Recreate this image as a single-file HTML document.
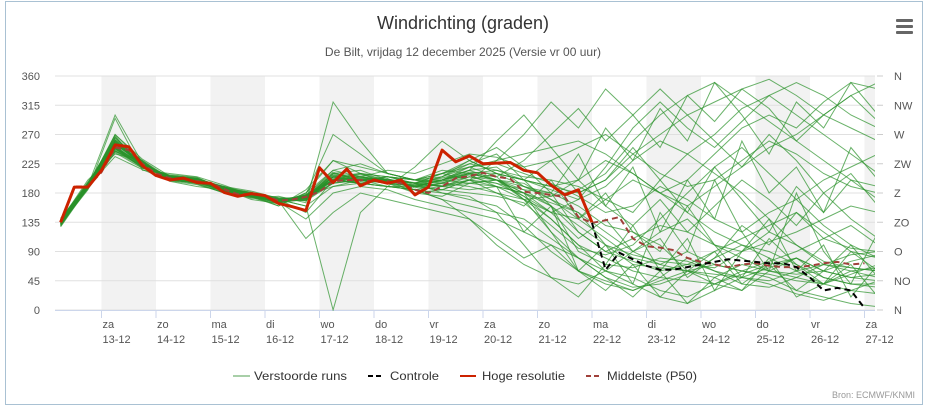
<!DOCTYPE html>
<html><head><meta charset="utf-8">
<style>
html,body{margin:0;padding:0;background:#fff;}
body{width:925px;height:407px;overflow:hidden;font-family:"Liberation Sans",sans-serif;}
svg text{font-family:"Liberation Sans",sans-serif;}
</style></head>
<body>
<svg id="chart" width="925" height="407" xmlns="http://www.w3.org/2000/svg">
<rect x="5.5" y="1.5" width="917" height="403" fill="#fff" stroke="#a9c1d3" stroke-width="1"/>
<text x="463" y="29" text-anchor="middle" font-size="18" fill="#333">Windrichting (graden)</text>
<text x="463" y="56" text-anchor="middle" font-size="12" fill="#555">De Bilt, vrijdag 12 december 2025 (Versie vr 00 uur)</text>
<g fill="#666">
<rect x="896" y="19" width="17" height="3" rx="1"/><rect x="896" y="25" width="17" height="3" rx="1"/><rect x="896" y="31" width="17" height="3" rx="1"/>
</g>
<g id="bands"></g><g id="grid"></g><g id="axes"></g>
<g id="series"></g>
<g>
<g><line x1="233" y1="376" x2="250" y2="376" stroke="#a8cfa8" stroke-width="2"/><text x="254" y="380" font-size="12" fill="#333" textLength="93" lengthAdjust="spacingAndGlyphs">Verstoorde runs</text></g>
<g><line x1="368" y1="376" x2="383" y2="376" stroke="#000" stroke-width="2" stroke-dasharray="5,3"/><text x="390" y="380" font-size="12" fill="#333" textLength="49" lengthAdjust="spacingAndGlyphs">Controle</text></g>
<g><line x1="460" y1="376" x2="476" y2="376" stroke="#cc2200" stroke-width="2"/><text x="482" y="380" font-size="12" fill="#333" textLength="83" lengthAdjust="spacingAndGlyphs">Hoge resolutie</text></g>
<g><line x1="586" y1="376" x2="600" y2="376" stroke="#a0403a" stroke-width="2" stroke-dasharray="5,3"/><text x="607" y="380" font-size="12" fill="#333" textLength="90" lengthAdjust="spacingAndGlyphs">Middelste (P50)</text></g>
</g>
<text x="915" y="398" text-anchor="end" font-size="9" fill="#999">Bron: ECMWF/KNMI</text>
</svg>
<script>
const yTicks=[0,45,90,135,180,225,270,315,360];
const compass=["N","NO","O","ZO","Z","ZW","W","NW","N"];
const dayNames=["za","zo","ma","di","wo","do","vr","za","zo","ma","di","wo","do","vr","za"];
const dayDates=["13-12","14-12","15-12","16-12","17-12","18-12","19-12","20-12","21-12","22-12","23-12","24-12","25-12","26-12","27-12"];
const hiresStart=-18;
const hires=[135,189,189,215,254,251,222,207,200,203,196,195,181,175,179,176,164,159,153,219,196,217,191,200,195,200,177,189,246,228,237,225,226,227,215,211,192,177,185,135];
const medianStart=-18;
const median=[135,190,190,212,250,246,225,210,203,202,198,195,186,178,178,176,168,170,174,182,198,200,200,198,198,195,185,180,190,203,206,211,205,202,182,180,177,174,143,134,138,143,110,98,96,92,80,74,70,66,70,72,68,66,66,68,72,74,70,72];
const controlStart=216;
const control=[134,62,88,78,68,62,62,66,70,74,78,76,74,72,72,66,50,30,34,30,3];
const ensStart=-18;
const ensStep=12;
const members=[
[130,195,265,220,205,200,190,175,165,170,205,210,195,190,200,215,220,190,170,150,120,90,70,60,55,50,45,60,70,65,60],
[138,200,240,230,200,195,180,180,170,160,190,195,200,180,185,200,190,170,140,100,80,60,50,45,40,55,70,80,60,50,45],
[132,185,295,215,210,205,192,176,160,180,230,210,205,195,210,230,210,200,190,180,200,240,270,300,320,340,355,330,300,280,260],
[140,192,255,228,198,190,185,172,175,165,320,260,210,200,190,195,200,185,160,120,90,75,60,70,90,110,130,150,120,90,80],
[128,188,270,232,206,202,188,180,170,150,200,205,215,210,225,240,235,220,230,250,270,240,210,190,200,230,260,240,210,190,180],
[136,194,245,222,200,196,182,178,166,140,180,190,185,170,160,150,140,120,100,80,60,40,20,10,30,50,40,25,15,30,45],
[134,190,250,218,208,204,186,170,164,175,210,215,200,195,180,170,160,130,90,60,45,30,50,80,60,40,35,50,70,85,90],
[137,191,300,226,202,198,190,183,172,168,195,200,190,185,195,210,215,205,200,190,170,150,200,240,210,180,140,100,70,60,50],
[131,189,260,224,204,200,184,176,168,110,150,180,170,160,150,140,100,70,50,40,60,90,120,140,100,80,60,50,40,55,70],
[139,196,258,228,201,194,180,174,160,185,230,220,210,200,200,195,190,180,150,140,170,200,180,160,190,220,250,270,300,330,350],
[133,187,248,220,205,199,189,177,171,172,200,195,190,220,260,230,210,200,160,90,70,65,80,75,60,50,65,80,60,50,55],
[135,193,262,230,203,201,187,181,169,176,205,198,200,190,185,180,175,165,130,95,85,100,140,180,220,250,210,170,130,100,80],
[129,190,236,216,199,197,183,175,167,178,270,240,210,200,195,190,180,170,175,185,210,260,300,330,350,320,290,260,230,200,190],
[141,195,252,222,207,203,188,179,173,171,195,205,200,195,205,220,230,240,250,260,240,210,180,150,120,100,90,70,50,40,35],
[136,188,244,227,200,196,185,178,170,160,0,150,190,190,200,210,200,180,120,60,40,30,45,60,70,60,55,45,40,60,65],
[132,192,268,219,204,200,186,176,166,174,210,200,195,180,175,195,200,195,170,140,110,80,70,90,70,60,75,90,110,95,90],
[137,197,256,224,202,198,184,180,169,169,205,210,205,200,210,220,205,170,150,170,220,280,320,280,250,290,330,300,270,240,210],
[134,186,242,218,206,202,190,174,165,177,200,195,190,185,190,205,195,185,180,160,130,120,100,60,40,30,60,80,50,40,40],
[138,191,265,229,199,193,181,173,163,180,215,205,200,195,210,225,215,200,190,200,230,210,180,200,240,280,300,280,320,350,340],
[130,194,248,221,203,200,187,177,168,176,190,200,195,185,170,160,150,140,110,80,50,35,40,55,80,100,80,60,40,30,25],
[135,190,254,226,205,201,189,181,172,173,200,210,200,190,200,220,225,210,195,175,150,160,190,170,140,120,150,170,200,220,240],
[133,193,259,223,200,197,183,175,167,172,205,195,200,195,190,185,190,180,165,150,100,70,65,60,50,70,60,55,60,75,85],
[139,189,246,220,207,203,188,178,170,168,200,200,205,200,215,210,200,190,180,120,90,110,130,120,100,90,105,120,140,160,150],
[131,192,261,225,202,198,186,177,166,171,210,205,198,190,185,200,210,200,185,170,190,230,260,240,270,310,330,350,330,300,280],
[136,190,251,222,204,200,185,176,168,174,200,195,205,195,200,210,200,175,140,100,60,50,30,20,40,60,50,30,20,10,5],
[134,191,249,224,203,199,187,179,169,173,195,200,200,190,195,205,200,180,160,130,100,85,75,70,65,90,120,100,75,65,60],
[135,190,258,222,204,199,186,177,168,172,205,200,195,190,200,215,260,300,250,200,280,230,310,260,350,300,240,320,280,350,300],
[133,192,250,225,202,197,184,176,167,173,198,202,200,188,196,208,190,120,160,60,100,40,150,90,200,120,60,180,90,40,120],
[137,189,262,221,205,201,188,178,170,176,215,225,210,200,205,230,250,220,180,240,160,220,120,200,140,260,180,220,150,250,200],
[134,191,255,226,203,198,185,177,169,175,200,195,190,185,180,175,150,100,50,20,70,130,60,110,30,90,140,60,100,20,70],
[136,193,248,223,201,197,183,175,166,174,208,200,205,200,210,200,230,270,320,280,340,300,250,330,290,340,310,260,300,330,290],
[132,188,266,224,206,202,189,179,171,170,202,208,200,195,190,200,180,160,200,140,180,120,90,160,100,50,110,70,40,90,60],
[138,195,244,220,204,199,186,176,168,171,200,205,198,192,205,225,240,200,230,180,200,250,200,150,220,170,120,190,150,200,170],
[131,190,270,228,200,196,184,174,165,177,212,198,202,185,170,140,110,80,100,60,30,70,20,60,90,40,70,30,60,100,50],
[135,192,252,224,203,199,187,178,169,172,204,201,199,193,198,210,205,230,270,310,260,300,340,300,260,220,270,230,180,140,110],
[137,190,257,222,205,200,186,177,168,174,201,199,202,190,192,200,195,175,150,110,140,90,110,50,80,130,100,150,110,130,100],
[133,191,249,225,202,198,185,176,167,173,207,204,198,191,200,212,210,190,175,200,160,130,170,120,160,200,170,130,180,210,160],
[136,189,260,223,204,200,188,178,170,175,199,203,201,196,203,215,200,170,120,80,50,20,60,10,50,30,80,20,40,70,20]
];
const NS="http://www.w3.org/2000/svg";
const PL=55,PR=875,PT=76,PB=310;
function x(h){return 101.5+h/24*54.5;}
function y(v){return PB-(v/360)*(PB-PT);}
function mk(tag,attrs,parent){const e=document.createElementNS(NS,tag);for(const k in attrs)e.setAttribute(k,attrs[k]);parent.appendChild(e);return e;}
const bands=document.getElementById('bands'),grid=document.getElementById('grid'),axes=document.getElementById('axes'),series=document.getElementById('series');
for(let d=0;d<dayNames.length;d+=2){
  const x1=x(d*24),x2=Math.min(x((d+1)*24),PR);
  const r=mk('rect',{x:x1,y:PT,width:x2-x1,height:PB-PT,fill:'#f2f2f2'},bands);
  
  
}
yTicks.forEach((v,i)=>{
  const l=mk('line',{x1:PL,x2:PR,y1:y(v),y2:y(v),stroke:'#e0e0e0','stroke-width':1},grid);
  
  
  const t=mk('text',{x:40,y:y(v)+4,'text-anchor':'end','font-size':11,fill:'#555'},axes);t.textContent=v;
  
  
  mk('line',{x1:PR+2,x2:PR+8,y1:y(v),y2:y(v),stroke:'#ccc'},axes);
  const c=mk('text',{x:894,y:y(v)+4,'font-size':11,fill:'#555'},axes);c.textContent=compass[i];
  
  
});
mk('line',{x1:PL,x2:PR,y1:PB+0.5,y2:PB+0.5,stroke:'#ccd6eb'},axes);
dayNames.forEach((n,d)=>{
  const xx=x(d*24);
  mk('line',{x1:xx,x2:xx,y1:PB,y2:PB+8,stroke:'#ccd6eb'},axes);
  const t1=mk('text',{x:xx+1,y:328,'font-size':11,fill:'#555'},axes);t1.textContent=n;
  
  
  const t2=mk('text',{x:xx+1,y:343,'font-size':11,fill:'#555'},axes);t2.textContent=dayDates[d];
  
  
});
const clip=mk('clipPath',{id:'pc'},mk('defs',{},document.getElementById('chart')));
mk('rect',{x:PL,y:PT-2,width:PR-PL,height:PB-PT+3},clip);
series.setAttribute('clip-path','url(#pc)');
function pts(arr,start,step){return arr.map((v,i)=>x(start+i*step).toFixed(1)+','+y(v).toFixed(1)).join(' ');}
members.forEach(m=>{
  const p=mk('polyline',{points:pts(m,ensStart,ensStep),fill:'none',stroke:'#2a922a','stroke-opacity':0.7,'stroke-width':1},series);
  
  
});
const med=mk('polyline',{points:pts(median,medianStart,6),fill:'none',stroke:'#a0403a','stroke-width':2,'stroke-dasharray':'6,4'},series);


const hr=mk('polyline',{points:pts(hires,hiresStart,6),fill:'none',stroke:'#cc2200','stroke-width':3,'stroke-linejoin':'round'},series);


const ct=mk('polyline',{points:pts(control,controlStart,6),fill:'none',stroke:'#000','stroke-width':2,'stroke-dasharray':'6,4'},series);


</script>
</body></html>
